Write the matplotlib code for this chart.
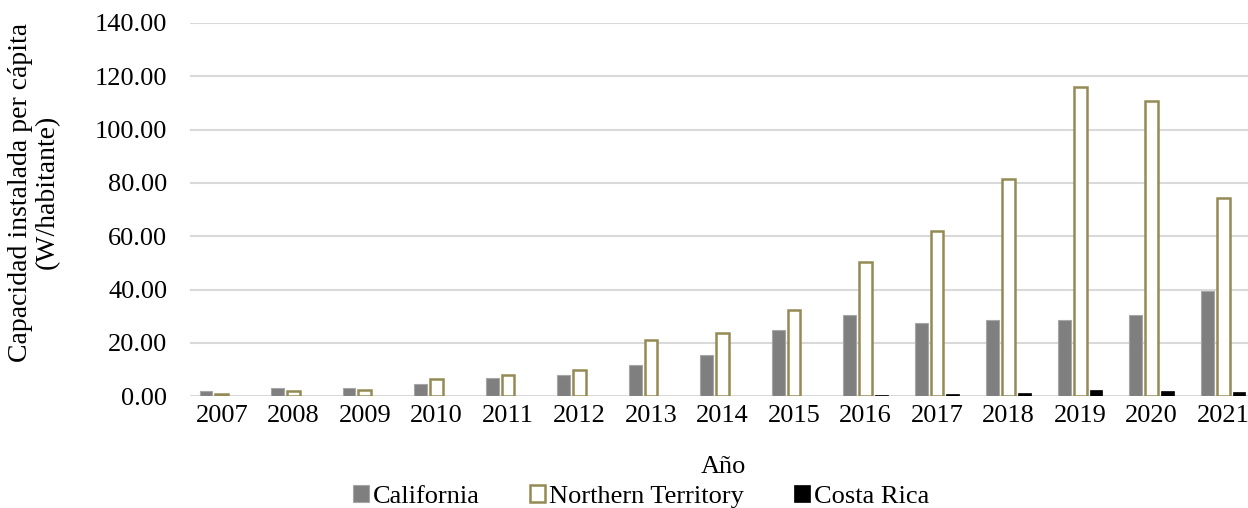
import matplotlib.pyplot as plt
import numpy as np
from matplotlib.ticker import FormatStrFormatter

plt.rcParams['font.family'] = ['Liberation Serif', 'DejaVu Serif']

years = ['2007', '2008', '2009', '2010', '2011', '2012', '2013', '2014',
         '2015', '2016', '2017', '2018', '2019', '2020', '2021']
california = [2.0, 3.1, 3.0, 4.6, 6.9, 8.1, 11.9, 15.6, 24.9, 30.5, 27.5,
              28.4, 28.5, 30.6, 39.4]
northern_territory = [0.85, 1.9, 2.2, 6.6, 7.8, 9.7, 21.0, 23.6, 32.4, 50.3,
                      61.9, 81.3, 116.1, 110.7, 74.2]
costa_rica = [0.0, 0.0, 0.0, 0.0, 0.0, 0.0, 0.0, 0.0, 0.0, 0.4, 1.0, 1.4,
              2.25, 1.9, 1.6]

fs = 19

fig = plt.figure(figsize=(12.48, 5.08), dpi=100)
ax = fig.add_axes([0.152, 0.22, 0.855, 0.735])

x = np.arange(len(years))
w = 0.18
off = 0.222
ax.bar(x - off, california, w, color='#7f7f7f', edgecolor='#a6a6a6',
       linewidth=0.8, label='California', zorder=3)
ax.bar(x, northern_territory, w, color='white', edgecolor='#948a54',
       linewidth=1.8, label='Northern Territory', zorder=3)
ax.bar(x + off, costa_rica, w, color='black', edgecolor='black',
       linewidth=0.5, label='Costa Rica', zorder=3)

ax.set_ylim(0, 140)
ax.set_yticks(np.arange(0, 141, 20))
ax.yaxis.set_major_formatter(FormatStrFormatter('%.2f'))
ax.set_xlim(-0.45, 14.47)
ax.set_xticks(x)
ax.set_xticklabels(years)
ax.grid(axis='y', color='#d9d9d9', linewidth=1.5, zorder=0)
for s in ax.spines.values():
    s.set_visible(False)
ax.tick_params(length=0, labelsize=fs, colors='black')
ax.tick_params(axis='y', pad=16)
ax.tick_params(axis='x', pad=6)

ax.set_ylabel('Capacidad instalada per cápita\n(W/habitante)', fontsize=20,
              linespacing=1.1)
ax.yaxis.set_label_coords(-0.122, 0.547)
ax.set_xlabel('Año', fontsize=fs, labelpad=21)

ax.legend(loc='center', bbox_to_anchor=(0.423, -0.268), ncol=3,
          frameon=False, fontsize=fs, handlelength=0.6, handleheight=0.6,
          handletextpad=0.15, columnspacing=1.9, borderpad=0)

fig.savefig('out.png', dpi=100)
